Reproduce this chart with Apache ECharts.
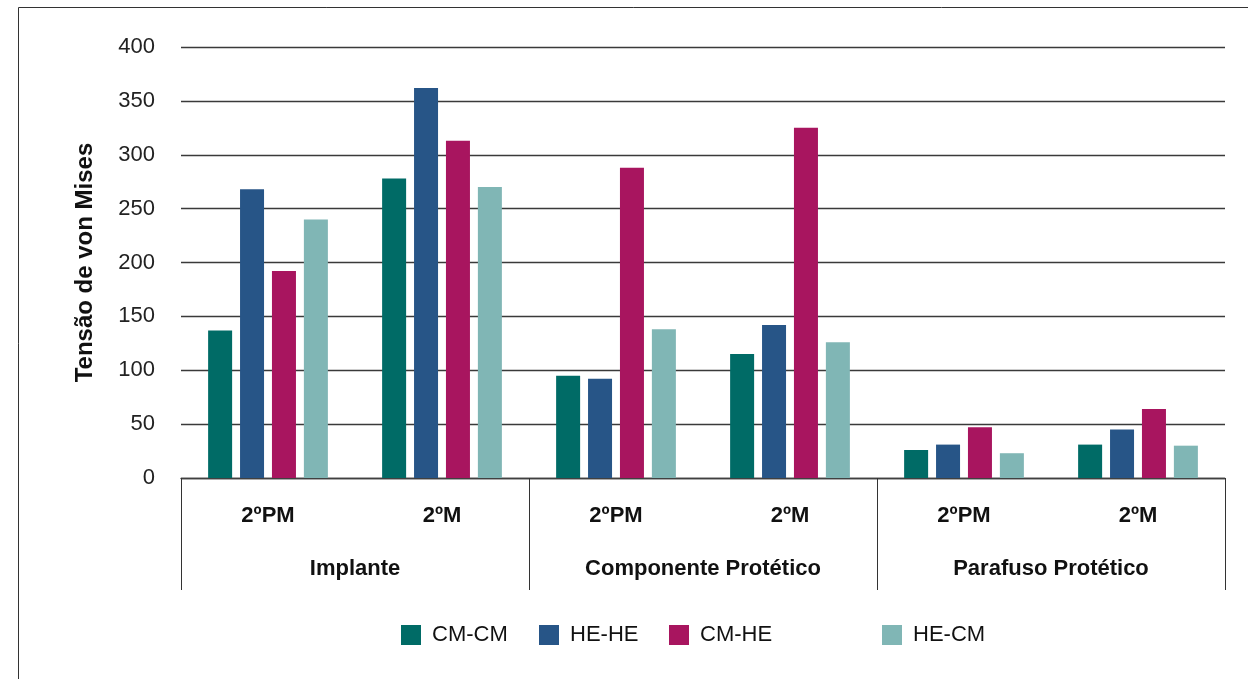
<!DOCTYPE html>
<html>
<head>
<meta charset="utf-8">
<script src="https://cdn.jsdelivr.net/npm/echarts@6/dist/echarts.min.js"></script>
<style>
  html, body { margin: 0; padding: 0; background: #fff; }
  #chart { width: 1248px; height: 679px; }
</style>
</head>
<body>
<div id="chart"></div>
<script>
// Structural groups and the two teeth modelled within each
const groups = ['Implante', 'Componente Protético', 'Parafuso Protético'];
const teeth = ['2ºPM', '2ºM'];

// Series (connection combinations) and their von Mises stress values,
// ordered Implante 2ºPM, 2ºM, Componente 2ºPM, 2ºM, Parafuso 2ºPM, 2ºM
const seriesNames = ['CM-CM', 'HE-HE', 'CM-HE', 'HE-CM'];
const cmcm = [137, 278, 95, 115, 26, 31];
const hehe = [268, 362, 92, 142, 31, 45];
const cmhe = [192, 313, 288, 325, 47, 64];
const hecm = [240, 270, 138, 126, 23, 30];

const yTicks = [0, 50, 100, 150, 200, 250, 300, 350, 400];
const yTitle = 'Tensão de von Mises';

const colors = ['#006B66', '#275587', '#A8155F', '#80B6B5'];
const values = [cmcm, hehe, cmhe, hecm];

// One unique key per bar cluster; the label shows only the tooth part
const categories = [];
groups.forEach(g => teeth.forEach(t => categories.push(g + '|' + t)));

const legendLefts = [401, 539, 669, 882];
const FONT = '"Liberation Sans", Arial, sans-serif';

const chart = echarts.init(document.getElementById('chart'), null, { renderer: 'canvas' });

chart.setOption({
  animation: false,
  backgroundColor: '#fff',
  graphic: [{
    type: 'rect',
    shape: { x: 18.5, y: 7.5, width: 1400, height: 900 },
    style: { fill: 'none', stroke: '#333', lineWidth: 1 },
    silent: true
  }],
  grid: { left: 181, right: 23, top: 47, bottom: 201, containLabel: false },
  legend: seriesNames.map((n, i) => ({
    data: [n],
    left: legendLefts[i],
    top: 624,
    padding: 0,
    itemWidth: 20,
    itemHeight: 20,
    icon: 'rect',
    textStyle: { fontFamily: FONT, fontSize: 22, color: '#111', padding: [0, 0, 0, 6] }
  })),
  xAxis: [{
    type: 'category',
    data: categories,
    position: 'bottom',
    axisLine: { show: true, lineStyle: { color: '#404040', width: 1.3 } },
    axisTick: { show: false },
    axisLabel: {
      formatter: v => v.split('|')[1],
      fontFamily: FONT, fontWeight: 'bold', fontSize: 22, color: '#111', margin: 27
    }
  }, {
    type: 'category',
    data: groups,
    position: 'bottom',
    axisLine: { show: false },
    axisTick: { show: true, length: 112, lineStyle: { color: '#333', width: 1 } },
    axisLabel: { fontFamily: FONT, fontWeight: 'bold', fontSize: 22, color: '#111', margin: 80 },
    splitLine: { show: false }
  }],
  yAxis: {
    type: 'value',
    min: yTicks[0],
    max: yTicks[yTicks.length - 1],
    interval: yTicks[1] - yTicks[0],
    name: yTitle,
    nameLocation: 'middle',
    nameGap: 84,
    nameRotate: 90,
    nameTextStyle: { fontFamily: FONT, fontWeight: 'bold', fontSize: 24, color: '#111' },
    axisLine: { show: false },
    axisTick: { show: false },
    axisLabel: { fontFamily: FONT, fontSize: 22, color: '#222', margin: 26 },
    splitLine: { lineStyle: { color: '#3a3a3a', width: 1.3 } }
  },
  series: seriesNames.map((n, i) => ({
    name: n,
    type: 'bar',
    xAxisIndex: 0,
    data: values[i],
    barWidth: 24,
    barGap: '33%',
    itemStyle: { color: colors[i] }
  }))
});
</script>
</body>
</html>
